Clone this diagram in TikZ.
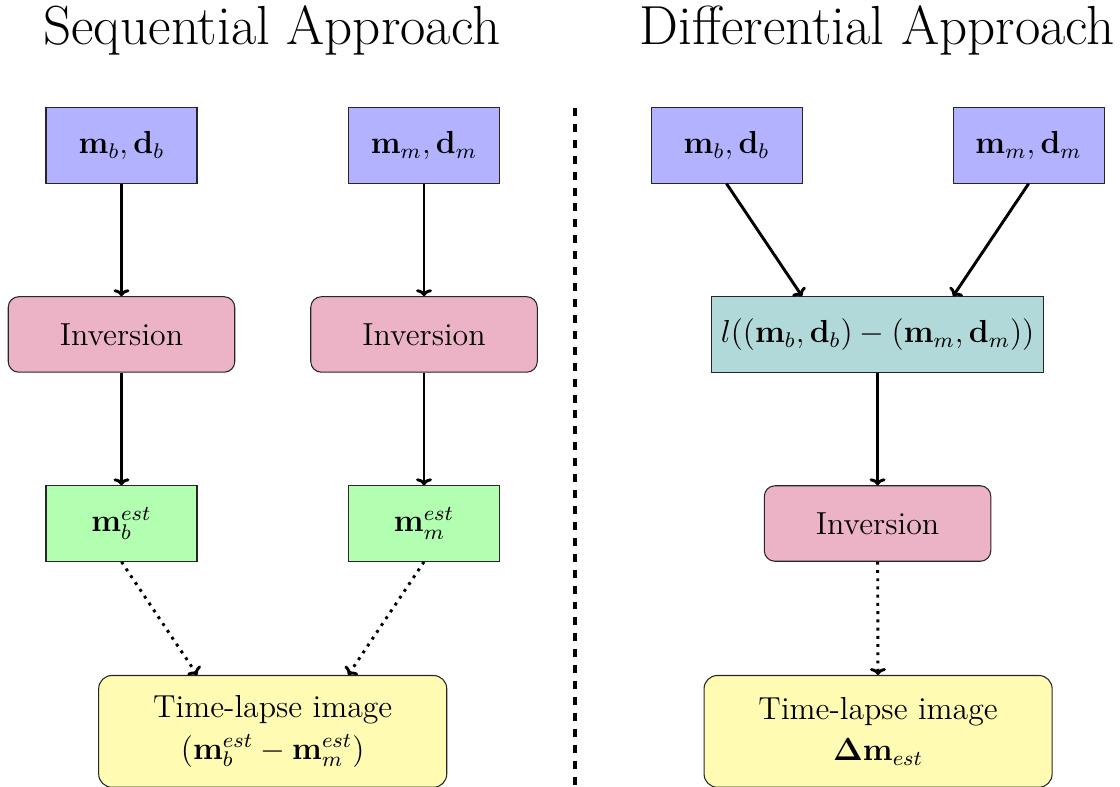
\documentclass[tikz,border=0pt]{standalone}
\usetikzlibrary{arrows.meta}
\begin{document}
\begin{tikzpicture}[
  every node/.style={font=\fontsize{12}{14.5}\selectfont},
  base/.style={draw=black!85, line width=0.4pt, minimum height=1cm},
  databox/.style={base, fill=blue!30, minimum width=2cm},
  invbox/.style={base, fill=purple!30, minimum width=3cm, rounded corners=4pt},
  estbox/.style={base, fill=green!30, minimum width=2cm},
  lossbox/.style={base, fill=teal!30, minimum width=3cm},
  outbox/.style={base, fill=yellow!30, minimum width=4.61cm, minimum height=1.48cm, rounded corners=5pt, align=center, anchor=north},
  title/.style={font=\fontsize{20.74}{25}\selectfont},
  conn/.style={-{To[length=2.6pt,width=6pt]}, line width=1.1pt},
  dconn/.style={conn, dotted},
]
\useasboundingbox (0,0) rectangle (14.834,-10.411);

\node[title] (t1) at (3.60,-0.40) {Sequential Approach};
\node[title] (t2) at (11.62,-0.40) {Differential Approach};

% left
\node[databox] (mb) at (1.609,-1.927) {$\mathbf{m}_b, \mathbf{d}_b$};
\node[databox] (mm) at (5.616,-1.927) {$\mathbf{m}_m, \mathbf{d}_m$};
\node[invbox] (invb) at (1.609,-4.430) {Inversion};
\node[invbox] (invm) at (5.616,-4.430) {Inversion};
\node[estbox] (eb) at (1.609,-6.934) {$\mathbf{m}_b^{est}$};
\node[estbox] (em) at (5.616,-6.934) {$\mathbf{m}_m^{est}$};
\node[outbox] (tl) at (3.612,-8.94) {Time-lapse image\\[1pt] $(\mathbf{m}_b^{est} - \mathbf{m}_m^{est})$};

\draw[conn] (mb) -- (invb);
\draw[conn] (mm) -- (invm);
\draw[conn] (invb) -- (eb);
\draw[conn] (invm) -- (em);
\draw[dconn] (eb.south) -- ([xshift=-1cm]tl.north);
\draw[dconn] (em.south) -- ([xshift=1cm]tl.north);

% separator
\coordinate (s1) at (7.616,-1.43);
\coordinate (s2) at (7.616,-10.42);
\draw[dashed, line width=1.2pt] (s1) -- (s2);

% right
\node[databox] (rmb) at (9.623,-1.927) {$\mathbf{m}_b, \mathbf{d}_b$};
\node[databox] (rmm) at (13.623,-1.927) {$\mathbf{m}_m, \mathbf{d}_m$};
\node[lossbox] (loss) at (11.623,-4.430) {$l((\mathbf{m}_b, \mathbf{d}_b) - (\mathbf{m}_m, \mathbf{d}_m))$};
\node[invbox] (rinv) at (11.623,-6.934) {Inversion};
\node[outbox] (rtl) at (11.63,-8.94) {Time-lapse image\\[1pt] $\mathbf{\Delta m}_{est}$};

\draw[conn] (rmb.south) -- ([xshift=-1cm]loss.north);
\draw[conn] (rmm.south) -- ([xshift=1cm]loss.north);
\draw[conn] (loss) -- (rinv);
\draw[dconn] (rinv) -- (rtl);
\end{tikzpicture}
\end{document}
